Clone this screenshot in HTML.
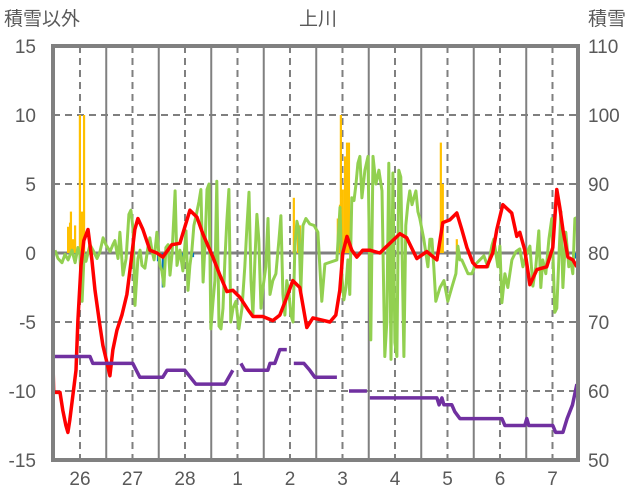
<!DOCTYPE html>
<html><head><meta charset="utf-8"><style>
body{margin:0;background:#fff;}
svg{display:block;font-family:"Liberation Sans","Noto Sans CJK JP",sans-serif;}
</style></head><body>
<svg id="chart" width="636" height="501" viewBox="0 0 636 501" xmlns="http://www.w3.org/2000/svg">
<g id="grid"></g>
<g id="bars"></g>
<g id="lines"></g>
<rect x="53" y="46" width="525" height="414" fill="none" stroke="#808080" stroke-width="4"/>
<g id="labels" fill="#595959" font-size="19"></g>
<text x="4" y="25" font-size="19" fill="#595959">積雪以外</text>
<text x="318" y="25" font-size="19" fill="#595959" text-anchor="middle">上川</text>
<text x="588" y="25" font-size="19" fill="#595959">積雪</text>
</svg>
<script>
const dayLabels=["26","27","28","1","2","3","4","5","6","7"];
const leftTicks=[15,10,5,0,-5,-10,-15];
const rightTicks=[110,100,90,80,70,60,50];
const redT=[0,0.3,3.2,4.5,5.9,6.8,7.7,9.1,10.5,11.4,12.8,14.1,16,17.8,19.2,21.4,22.8,24.6,26,27.4,29.2,31.5,33.8,35.6,37.4,38.8,41.1,44.3,47.5,50.2,54.3,58,62.6,65.8,68.5,73.1,76.3,79.5,82.2,85.4,89.1,91.4,95.9,100.5,103.7,106.9,109.6,112.8,116,118.8,126.6,129.3,131.1,132.5,134.4,136.6,138.9,141.6,144.8,149.4,154,158.6,161.7,166.3,170.9,175.5,178.2,181.4,184.6,186.9,189.2,191.9,193.7,198.3,201,202.9,205.6,209.7,212,213.4,215.7,218,221.2,225.7,228.5,230.3,231.7,233.1,235.4,237.6,239.5];
const redV=[-8,-10.1,-10.1,-11.4,-12.5,-13,-12.1,-10.3,-8.5,-4.9,-0.9,0.9,1.7,-0.5,-2.7,-5.2,-6.7,-7.9,-8.9,-7,-5.6,-4.5,-3,-0.7,1.7,2.5,1.7,0.2,0,-0.3,0.6,0.7,3.1,2.6,1.4,-0.3,-1.6,-2.8,-2.7,-3.2,-4.1,-4.6,-4.6,-4.9,-4.5,-3.2,-2,-2.5,-5.4,-4.7,-5,-4.5,-2.7,0,1.2,0.2,-0.3,0.2,0.2,0,0.7,1.4,1.1,-0.4,0.1,-0.5,2.2,2.4,2.9,1.7,0.4,-0.7,-1,-1,0,1.7,3.5,2.9,1.2,1.5,0.2,-2.3,-1.2,-1,0.4,4.6,3.3,1.7,-0.3,-0.5,-1];
const greenT=[0.9,2.3,4.1,5.5,6.9,8.7,10.1,11.4,12.3,13.3,14.2,15.1,16.9,18.3,20.1,21.5,22.9,24.2,26.1,27.4,28.3,29.7,30.6,32,33.4,34.7,35.6,36.6,37.5,38.8,39.8,40.7,42,43.4,44.3,45.2,46.2,47.5,48.9,49.8,50.7,51.6,52.6,53.5,54.4,55.8,56.7,58,59.4,60.8,61.7,62.6,63.5,64.4,65.4,66.7,67.6,68.6,69.5,70.4,71.3,72.2,73.1,74,74.9,75.9,76.8,77.7,78.6,79.5,80.4,81.3,82.3,83.6,85,86.4,87.7,88.7,89.6,90.5,91.4,92.3,93.2,94.1,95.1,96,97.3,98.3,99.2,100.5,101.9,103.3,104.2,105.1,106,106.9,107.9,108.8,109.7,110.6,111.5,112.4,113.3,114.3,115.6,117.4,119.3,121.1,122.9,124.3,129.8,131.2,132.1,133,133.9,134.8,135.7,136.6,137.6,138.5,139.4,140.3,141.2,142.6,144,145.3,146.3,147.6,149,150.4,151.7,152.6,153.5,154.5,155.4,156.3,157.2,158.1,159,160.4,161.3,162.2,163.1,164.1,165,165.9,166.8,167.7,169.5,171.4,172.3,173.2,174.1,175,176.9,178.7,180.5,182.3,184.2,185.1,186,186.9,188.3,189.7,191.5,193.3,195.1,197,198.8,200.6,201.5,203.4,204.3,205.2,206.6,207.9,209.8,211.6,213.4,214.8,216.2,218,219.4,220.7,222.1,223,223.9,225.3,226.7,228,229.4,230.3,231.2,232.2,233.1,234.4,235.8,236.7,237.6,238.6,240];
const greenV=[0.2,-0.4,-0.7,-0.1,-0.5,0.2,-0.7,0.4,-0.1,-3.5,-0.1,-0.6,0.6,0.2,-0.4,0.1,1.1,0.6,0.1,0.6,0.9,-0.4,1.5,-1.6,-0.4,2.8,3.1,1.7,-3.8,-0.4,0.2,-0.9,-1.1,0.4,1.1,0.2,-0.5,1.5,-0.9,-1.3,-2.4,0.4,0.6,-1.6,-0.1,4.5,-0.9,0.2,-1.3,1.6,-2.7,-0.9,0.2,2,2.7,3.7,4.6,-2.1,0.6,4.6,5,-5.5,-3.6,-2,5.2,-5.3,-5.5,-4,-0.5,2.4,4.6,-5,-4,-3.5,-5.5,-4,-1,2,4.4,-2,-4.5,-0.5,2.8,1,-4,-2.5,-1,2.5,-3,-2,-1.5,1,2.7,-3,-4.5,-2,-3,-4.5,-5,0.5,2.3,1.7,-2.8,2,2.5,2.1,2,1.5,-3.5,-0.8,-0.5,3.3,-1.8,-3.4,-2.5,-0.5,-3,4,3.8,5,6.5,7,4,6,7,-6.3,7,5,6,4.5,-7.5,-5,6.5,-7.7,5.8,-6.5,-7.5,6,5.5,-7.5,2,3.5,4.5,3.5,4,4.5,3,2.5,1,-1,1,1,-1,-3.5,-2.5,-2,-3.5,-2.5,-1.5,0.5,-0.5,-0.5,-1,-1.5,-1.5,-0.8,-0.5,-0.2,-1,0.5,1,-1,0.5,-3.6,-1.5,-2.5,-0.5,0.1,0.3,-1,-0.2,0.5,-2.4,-1,1.6,-2.5,-0.5,-1.5,1,2.5,-4.3,-4,-0.5,3,-2.5,1.5,-1,-0.5,-1.5,2.5,2.6];
const snowT=[0,16.9,18.2,36.5,39.7,50.2,52.1,60.3,65.3,78.6,82.2,null,85.9,87.7,98.2,99.2,101.4,103.7,106.9,null,110.1,114.7,117.4,119.7,129.8,null,135.3,143.5,null,144.8,175.5,176.5,177.8,178.7,182.3,183.7,186,205.2,206.6,215.7,216.6,217.5,228.5,229.8,233.1,235,237.5,239.5];
const snowV=[65,65,64,64,62,62,63,63,61,61,63,null,64,63,63,64,64,66,66,null,64,64,63,62,62,null,60,60,null,59,59,58,59,58,58,57,56,56,55,55,56,55,55,54,54,56,58,61];
const precipT=[6.9,7.8,8.2,9.1,10.1,12.3,13.3,14.2,110.1,112,112.9,130.2,131.2,131.6,132.5,133.5,134.4,135.3,177.3,178.2,184.6];
const precipV=[1.9,2.2,3,1,2,10,3,10,4,2,2,2.5,3.5,10,4.6,7,8,8,8,5,1];
const blueT=[48,50.2,56.7,59.4,64,238,239];
const blueV=[-0.6,-2.5,-0.4,-0.4,-0.3,-0.6,-0.4];

const X0=53,W=525,Y0=46,H=414;
const xs=h=>X0+h/240*W;
const yl=v=>Y0+(15-v)/30*H;
const yr=v=>Y0+(110-v)/60*H;
const NS="http://www.w3.org/2000/svg";
function mk(tag,attrs,parent){const e=document.createElementNS(NS,tag);for(const k in attrs)e.setAttribute(k,attrs[k]);parent.appendChild(e);return e;}
const grid=document.getElementById('grid'),bars=document.getElementById('bars'),lines=document.getElementById('lines'),labels=document.getElementById('labels');
const dayOff=12.34;
dayLabels.forEach((d,i)=>{
  const xd=xs(dayOff+24*i);
  const l=mk('line',{x1:xd,x2:xd,y1:Y0,y2:Y0+H,stroke:'#7f7f7f','stroke-width':2,'stroke-dasharray':'7,5'},grid);
  
  
  const xm=xs(dayOff+24*i+12);
  if(xm<X0+W-2){const s=mk('line',{x1:xm,x2:xm,y1:Y0,y2:Y0+H,stroke:'#808080','stroke-width':2},grid);
  
  }
  const t=mk('text',{x:xd,y:485,'text-anchor':'middle'},labels);t.textContent=d;
  
  
});
leftTicks.forEach((v,i)=>{
  const y=yl(v);
  if(v!==15&&v!==-15){const g=mk('line',{x1:X0,x2:X0+W,y1:y,y2:y,stroke:v===0?'#808080':'#7f7f7f','stroke-width':v===0?3:2,'stroke-dasharray':v===0?'none':'7,5'},grid);
  
  }
  const t=mk('text',{x:36,y:y+7,'text-anchor':'end'},labels);t.textContent=v;
  
  
  const r=mk('text',{x:588,y:yr(rightTicks[i])+7},labels);r.textContent=rightTicks[i];
  
  
});
precipT.forEach((h,i)=>{
  const b=mk('rect',{x:xs(h)-1.1,y:yl(precipV[i]),width:2.2,height:yl(0)-yl(precipV[i]),fill:'#ffc000'},bars);
  
  
});
blueT.forEach((h,i)=>{
  const b=mk('rect',{x:xs(h)-1.1,y:yl(0),width:2.2,height:yl(blueV[i])-yl(0),fill:'#0070c0'},bars);
  
  
});
function path(T,V,ys){let d='',pen=false;T.forEach((t,i)=>{if(t===null||V[i]===null){pen=false;return;}d+=(pen?'L':'M')+xs(t).toFixed(1)+','+ys(V[i]).toFixed(1);pen=true;});return d;}
const g=mk('path',{d:path(greenT,greenV,yl),fill:'none',stroke:'#92d050','stroke-width':3,'stroke-linejoin':'round'},lines);


const r=mk('path',{d:path(redT,redV,yl),fill:'none',stroke:'#ff0000','stroke-width':3.5,'stroke-linejoin':'round'},lines);


const p=mk('path',{d:path(snowT,snowV,yr),fill:'none',stroke:'#7030a0','stroke-width':3.5,'stroke-linejoin':'round'},lines);


</script>
</body></html>
